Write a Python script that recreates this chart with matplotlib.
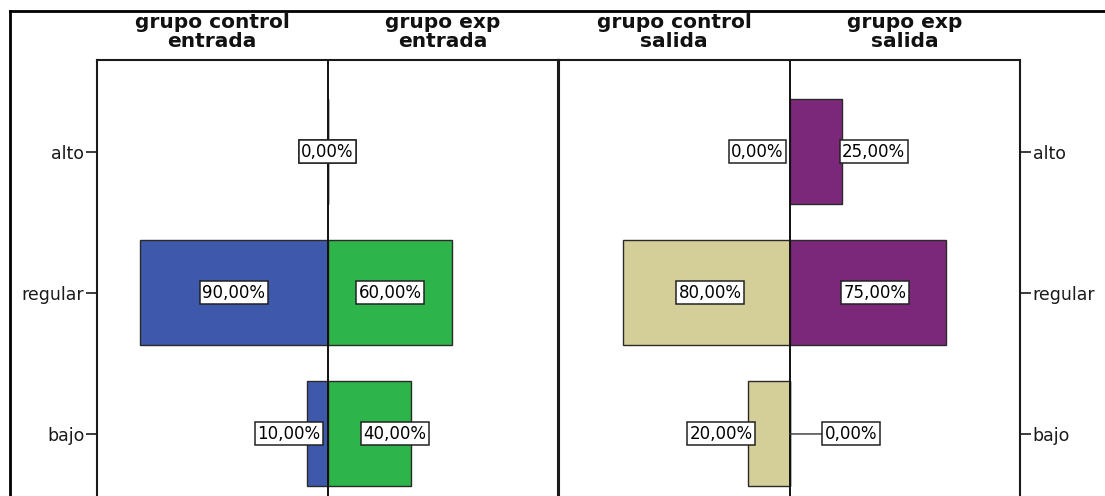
import numpy as np
import matplotlib
matplotlib.use("Agg")
import matplotlib.pyplot as plt
import matplotlib.transforms as mtransforms
from matplotlib.lines import Line2D

# Data (percent per category)
categories = ["bajo", "regular", "alto"]
control_entrada = [10, 90, 0]
exp_entrada = [40, 60, 0]
control_salida = [20, 80, 0]
exp_salida = [0, 75, 25]

titles = ["grupo control\nentrada", "grupo exp\nentrada",
          "grupo control\nsalida", "grupo exp\nsalida"]

# label placement (x in % units, relative to the centre line)
lab_x_entrada_ctrl = [-18.7, -45, 0]
lab_x_entrada_exp = [32.5, 30, 0]
lab_x_salida_ctrl = [-33, -38, -15.5]
lab_x_salida_exp = [29.5, 41, 40.5]

c_blue = "#3e58ab"
c_green = "#2db44b"
c_beige = "#d4cf98"
c_purple = "#7b287b"
edge = "#2a2a2a"

XMAX = 110.8
BAR_H = 0.745

fig = plt.figure(figsize=(11.05, 4.96), dpi=100)
fig.patch.set_facecolor("white")

ax1 = fig.add_axes([97 / 1105, 0, 461 / 1105, 436 / 496])
ax2 = fig.add_axes([559 / 1105, 0, 461 / 1105, 436 / 496])

y = np.arange(len(categories))


def fmt(v):
    return f"{v:.2f}".replace(".", ",") + "%"


def draw_panel(ax, left_vals, right_vals, lcol, rcol, lx, rx, side):
    ax.barh(y, -np.array(left_vals), height=BAR_H, color=lcol,
            edgecolor=edge, linewidth=1)
    ax.barh(y, right_vals, height=BAR_H, color=rcol,
            edgecolor=edge, linewidth=1)
    ax.axvline(0, color="#111111", linewidth=1.4, zorder=3)
    ax.set_xlim(-XMAX, XMAX)
    ax.set_ylim(-0.44, 2.652)
    ax.set_xticks([])
    ax.set_yticks(y)
    ax.set_yticklabels(categories, fontsize=12.5)
    ax.spines["bottom"].set_visible(False)
    for s in ["left", "right", "top"]:
        ax.spines[s].set_linewidth(1.5)
        ax.spines[s].set_color("#1a1a1a")
    if side == "left":
        ax.yaxis.tick_left()
    else:
        ax.yaxis.tick_right()
    ax.tick_params(axis="y", direction="out", length=8, width=1.2,
                   pad=1, colors="#1a1a1a")
    box = dict(boxstyle="square,pad=0.15", facecolor="white",
               edgecolor="#222222", linewidth=1.1)
    for i in range(len(categories)):
        ax.text(lx[i], y[i], fmt(left_vals[i]), ha="center", va="center",
                fontsize=12, bbox=box, zorder=5)
        if right_vals[i] == 0 and lx[i] != rx[i]:
            ax.annotate(fmt(right_vals[i]), xy=(0, y[i]), xytext=(rx[i], y[i]),
                        ha="center", va="center", fontsize=12, bbox=box,
                        zorder=5,
                        arrowprops=dict(arrowstyle="-", color="#333333",
                                        linewidth=1, shrinkA=0, shrinkB=0))
        else:
            ax.text(rx[i], y[i], fmt(right_vals[i]), ha="center", va="center",
                    fontsize=12, bbox=box, zorder=5)


draw_panel(ax1, control_entrada, exp_entrada, c_blue, c_green,
           lab_x_entrada_ctrl, lab_x_entrada_exp, "left")
draw_panel(ax2, control_salida, exp_salida, c_beige, c_purple,
           lab_x_salida_ctrl, lab_x_salida_exp, "right")

# column headers
for k, ax in enumerate([ax1, ax2]):
    tr = mtransforms.blended_transform_factory(ax.transData, fig.transFigure)
    for j, xc in enumerate([-XMAX / 2, XMAX / 2]):
        ax.text(xc, 1 - 13.5 / 496, titles[2 * k + j], transform=tr,
                ha="center", va="top", fontsize=14.5, fontweight="bold",
                linespacing=0.95, color="#111111")

# outer frame (top and left only, the rest is cropped)
fig.add_artist(Line2D([9.5 / 1105, 1.0], [1 - 10.5 / 496, 1 - 10.5 / 496],
                      transform=fig.transFigure, color="black", linewidth=2))
fig.add_artist(Line2D([9.5 / 1105, 9.5 / 1105], [0, 1 - 10.5 / 496],
                      transform=fig.transFigure, color="black", linewidth=2))

fig.savefig("out.png", dpi=100)
